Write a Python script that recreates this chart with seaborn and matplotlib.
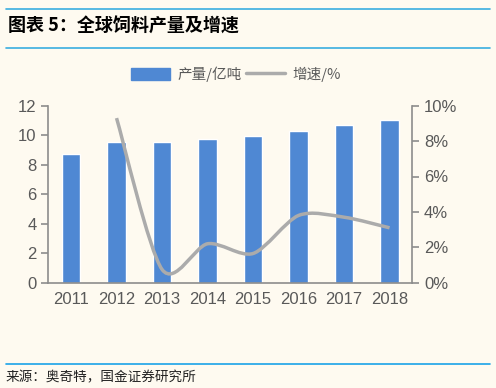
import numpy as np
import pandas as pd
import matplotlib
matplotlib.use('Agg')
import matplotlib.pyplot as plt
import seaborn as sns
from matplotlib.path import Path
from matplotlib.patches import PathPatch
from matplotlib.lines import Line2D
from matplotlib.patches import Patch
from matplotlib.ticker import PercentFormatter

years = ['2011', '2012', '2013', '2014', '2015', '2016', '2017', '2018']
output = [8.70, 9.52, 9.56, 9.76, 9.93, 10.28, 10.67, 11.01]  # 亿吨
growth = [np.nan, 9.3, 0.75, 2.2, 1.65, 3.8, 3.7, 3.1]  # %

bg = '#FEFAF0'
blue = '#4F88D3'
grey = '#ABABAB'
txt = '#595959'

sns.set_style('white')
plt.rcParams['font.family'] = ['Noto Sans CJK SC', 'DejaVu Sans']

fig = plt.figure(figsize=(4.96, 3.88), dpi=100, facecolor=bg)
ax = fig.add_axes([48.3 / 496, 1 - 282.7 / 388, 364 / 496, 177 / 388])
ax.set_facecolor(bg)

df = pd.DataFrame({'year': years, 'output': output})
sns.barplot(data=df, x='year', y='output', color=blue, width=0.4,
            saturation=1, ax=ax)
ax.set_xlim(-0.5, 7.5)
ax.set_ylim(0, 12)
ax.set_yticks(range(0, 13, 2))
ax.set_xlabel('')
ax.set_ylabel('')

ax2 = ax.twinx()
ax2.set_ylim(0, 10)
ax2.set_yticks(range(0, 11, 2))
ax2.yaxis.set_major_formatter(PercentFormatter(decimals=0))

# smoothed line through the data points (bezier)
xs = [i for i, g in enumerate(growth) if not np.isnan(g)]
ys = [g for g in growth if not np.isnan(g)]
k = 1 / 7
verts = [(xs[0], ys[0])]
codes = [Path.MOVETO]
for i in range(len(xs) - 1):
    p0 = (xs[max(i - 1, 0)], ys[max(i - 1, 0)])
    p1 = (xs[i], ys[i])
    p2 = (xs[i + 1], ys[i + 1])
    p3 = (xs[min(i + 2, len(xs) - 1)], ys[min(i + 2, len(xs) - 1)])
    c1 = (p1[0] + (p2[0] - p0[0]) * k, p1[1] + (p2[1] - p0[1]) * k)
    c2 = (p2[0] - (p3[0] - p1[0]) * k, p2[1] - (p3[1] - p1[1]) * k)
    verts += [c1, c2, p2]
    codes += [Path.CURVE4] * 3
ax2.add_patch(PathPatch(Path(verts, codes), fill=False, edgecolor=grey,
                        lw=2.5, capstyle='butt'))

for a in (ax, ax2):
    for s in a.spines.values():
        s.set_visible(False)
ax.spines['left'].set_visible(True)
ax.spines['bottom'].set_visible(True)
ax2.spines['right'].set_visible(True)
for s in (ax.spines['left'], ax.spines['bottom'], ax2.spines['right']):
    s.set_color('#8C8C8C')
    s.set_linewidth(1.2)

ax.set_xticks(np.arange(-0.5, 8, 1), minor=True)
ax.tick_params(axis='x', which='major', length=0, labelsize=12,
               labelcolor=txt, pad=7)
ax.tick_params(axis='x', which='minor', length=5, color='#8C8C8C', width=1.2,
               direction='out')
ax.tick_params(axis='y', length=5, color='#8C8C8C', width=1.2, labelsize=12,
               labelcolor=txt, direction='out')
ax2.tick_params(axis='y', length=5, color='#8C8C8C', width=1.2, labelsize=12,
                labelcolor=txt, direction='out')
for lab in ax.get_xticklabels() + ax.get_yticklabels() + ax2.get_yticklabels():
    lab.set_family('Liberation Sans')

handles = [Patch(facecolor=blue, edgecolor=blue, label='产量/亿吨'),
           Line2D([0], [0], color=grey, lw=2.5, label='增速/%')]
fig.legend(handles=handles, loc='center', bbox_to_anchor=(236 / 496, 1 - 74 / 388),
           ncol=2, frameon=False, fontsize=10.5, labelcolor=txt,
           handlelength=2.7, handleheight=0.9, columnspacing=0.3,
           handletextpad=0.5)

# header / footer
for yy in (9, 48, 364):
    fig.add_artist(Line2D([6 / 496, 490 / 496], [1 - yy / 388] * 2,
                          color='#3AAEE0' if yy != 364 else '#1AA3E8', lw=1.2))
fig.text(8 / 496, 1 - 26 / 388, '图表 5：全球饲料产量及增速', fontsize=13,
         fontweight='bold', color='black', va='center', ha='left')
fig.text(6 / 496, 1 - 377 / 388, '来源：奥奇特，国金证券研究所', fontsize=9.8,
         color='#222222', va='center', ha='left')

fig.savefig('out.png', dpi=100, facecolor=bg)
